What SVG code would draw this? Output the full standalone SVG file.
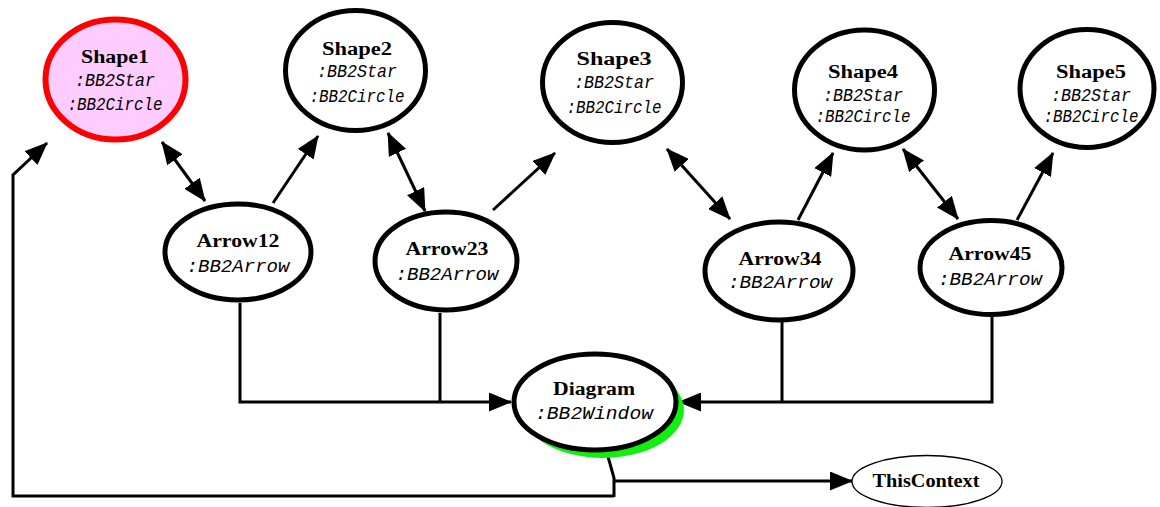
<svg xmlns="http://www.w3.org/2000/svg" width="1160" height="507" viewBox="0 0 1160 507">
  <style>
    .node { fill: #ffffff; stroke: #000000; stroke-width: 5; }
    .sel { fill: #ffccff; stroke: #ff0000; stroke-width: 6; }
    .thin { fill: #ffffff; stroke: #000000; stroke-width: 1.3; }
    .name { font-family: "Liberation Serif", serif; font-weight: bold; font-size: 18px; fill: #000; text-anchor: middle; }
    .type { font-family: "Liberation Mono", monospace; font-style: italic; font-size: 18px; fill: #000; text-anchor: middle; }
    .edge { fill: none; stroke: #000000; stroke-width: 3; }
  </style>
  <defs>
    <marker id="head" markerUnits="userSpaceOnUse" markerWidth="23" markerHeight="19" refX="22" refY="9.5" orient="auto-start-reverse">
      <path d="M0,0 L23,9.5 L0,19 Z" fill="#000"/>
    </marker>
  </defs>

  <rect width="1160" height="507" fill="#ffffff"/>

  <!-- connectors -->
  <g id="connectors">
    <!-- shape / arrow links along the top row -->
    <path class="edge" d="M162,142 L205,201" marker-start="url(#head)" marker-end="url(#head)"/>
    <path class="edge" d="M273,203 L318,136" marker-end="url(#head)"/>
    <path class="edge" d="M388,133 L425,211" marker-start="url(#head)" marker-end="url(#head)"/>
    <path class="edge" d="M493,210 L555,153" marker-end="url(#head)"/>
    <path class="edge" d="M667,149 L730,219" marker-start="url(#head)" marker-end="url(#head)"/>
    <path class="edge" d="M798,220 L833,153" marker-end="url(#head)"/>
    <path class="edge" d="M903,149 L958,219" marker-start="url(#head)" marker-end="url(#head)"/>
    <path class="edge" d="M1017,220 L1053,153" marker-end="url(#head)"/>
    <!-- arrows feeding the diagram -->
    <path class="edge" d="M240,303 L240,402 L511,402" marker-end="url(#head)"/>
    <path class="edge" d="M440,313 L440,402"/>
    <path class="edge" d="M992,317 L992,402 L679,402" marker-end="url(#head)"/>
    <path class="edge" d="M782,322 L782,402"/>
    <!-- diagram outputs -->
    <path class="edge" d="M607,453 L614,478 L614,497"/>
    <path class="edge" d="M614,481 L852,481" marker-end="url(#head)"/>
    <path class="edge" d="M614,496 L13,496 L13,175 L47,143" marker-end="url(#head)"/>
  </g>

  <g id="Shape1">
    <ellipse class="sel" cx="115.5" cy="79.5" rx="70" ry="60"/>
    <text class="name" x="115" y="63" textLength="68" lengthAdjust="spacingAndGlyphs">Shape1</text>
    <text class="type" x="115" y="86" textLength="80" lengthAdjust="spacingAndGlyphs">:BB2Star</text>
    <text class="type" x="115" y="110" textLength="95" lengthAdjust="spacingAndGlyphs">:BB2Circle</text>
  </g>

  <g id="Shape2">
    <ellipse class="node" cx="355.5" cy="70.5" rx="70" ry="60"/>
    <text class="name" x="357" y="55" textLength="70" lengthAdjust="spacingAndGlyphs">Shape2</text>
    <text class="type" x="357" y="77" textLength="80" lengthAdjust="spacingAndGlyphs">:BB2Star</text>
    <text class="type" x="357" y="102" textLength="95" lengthAdjust="spacingAndGlyphs">:BB2Circle</text>
  </g>

  <g id="Shape3">
    <ellipse class="node" cx="612.5" cy="82.5" rx="70" ry="60"/>
    <text class="name" x="614" y="65" textLength="75" lengthAdjust="spacingAndGlyphs">Shape3</text>
    <text class="type" x="614" y="88" textLength="80" lengthAdjust="spacingAndGlyphs">:BB2Star</text>
    <text class="type" x="614" y="113" textLength="95" lengthAdjust="spacingAndGlyphs">:BB2Circle</text>
  </g>

  <g id="Shape4">
    <ellipse class="node" cx="864.5" cy="90" rx="70" ry="60"/>
    <text class="name" x="863" y="78" textLength="70" lengthAdjust="spacingAndGlyphs">Shape4</text>
    <text class="type" x="863" y="101" textLength="80" lengthAdjust="spacingAndGlyphs">:BB2Star</text>
    <text class="type" x="863" y="122" textLength="95" lengthAdjust="spacingAndGlyphs">:BB2Circle</text>
  </g>

  <g id="Shape5">
    <ellipse class="node" cx="1087" cy="88.5" rx="67" ry="59"/>
    <text class="name" x="1091" y="78" textLength="70" lengthAdjust="spacingAndGlyphs">Shape5</text>
    <text class="type" x="1091" y="101" textLength="80" lengthAdjust="spacingAndGlyphs">:BB2Star</text>
    <text class="type" x="1091" y="122" textLength="95" lengthAdjust="spacingAndGlyphs">:BB2Circle</text>
  </g>

  <g id="Arrow12">
    <ellipse class="node" cx="238" cy="252" rx="73" ry="48"/>
    <text class="name" x="238" y="247" textLength="83" lengthAdjust="spacingAndGlyphs">Arrow12</text>
    <text class="type" x="238" y="272" textLength="103" lengthAdjust="spacingAndGlyphs">:BB2Arrow</text>
  </g>

  <g id="Arrow23">
    <ellipse class="node" cx="446" cy="261" rx="71" ry="49"/>
    <text class="name" x="447" y="255" textLength="83" lengthAdjust="spacingAndGlyphs">Arrow23</text>
    <text class="type" x="447" y="280" textLength="103" lengthAdjust="spacingAndGlyphs">:BB2Arrow</text>
  </g>

  <g id="Arrow34">
    <ellipse class="node" cx="779" cy="271" rx="74" ry="49"/>
    <text class="name" x="780" y="265" textLength="83" lengthAdjust="spacingAndGlyphs">Arrow34</text>
    <text class="type" x="780" y="288" textLength="104" lengthAdjust="spacingAndGlyphs">:BB2Arrow</text>
  </g>

  <g id="Arrow45">
    <ellipse class="node" cx="991" cy="267.5" rx="71" ry="47"/>
    <text class="name" x="990" y="260" textLength="83" lengthAdjust="spacingAndGlyphs">Arrow45</text>
    <text class="type" x="990" y="285" textLength="104" lengthAdjust="spacingAndGlyphs">:BB2Arrow</text>
  </g>

  <g id="Diagram">
    <ellipse cx="603" cy="410" rx="81" ry="48" fill="#11ee11"/>
    <ellipse class="node" cx="595" cy="402" rx="81" ry="48"/>
    <text class="name" x="594" y="395" textLength="82" lengthAdjust="spacingAndGlyphs">Diagram</text>
    <text class="type" x="594" y="419" textLength="118" lengthAdjust="spacingAndGlyphs">:BB2Window</text>
  </g>

  <g id="ThisContext">
    <ellipse class="thin" cx="927" cy="481.5" rx="75" ry="26"/>
    <text class="name" x="926" y="487" font-size="17" textLength="107" lengthAdjust="spacingAndGlyphs">ThisContext</text>
  </g>
</svg>
